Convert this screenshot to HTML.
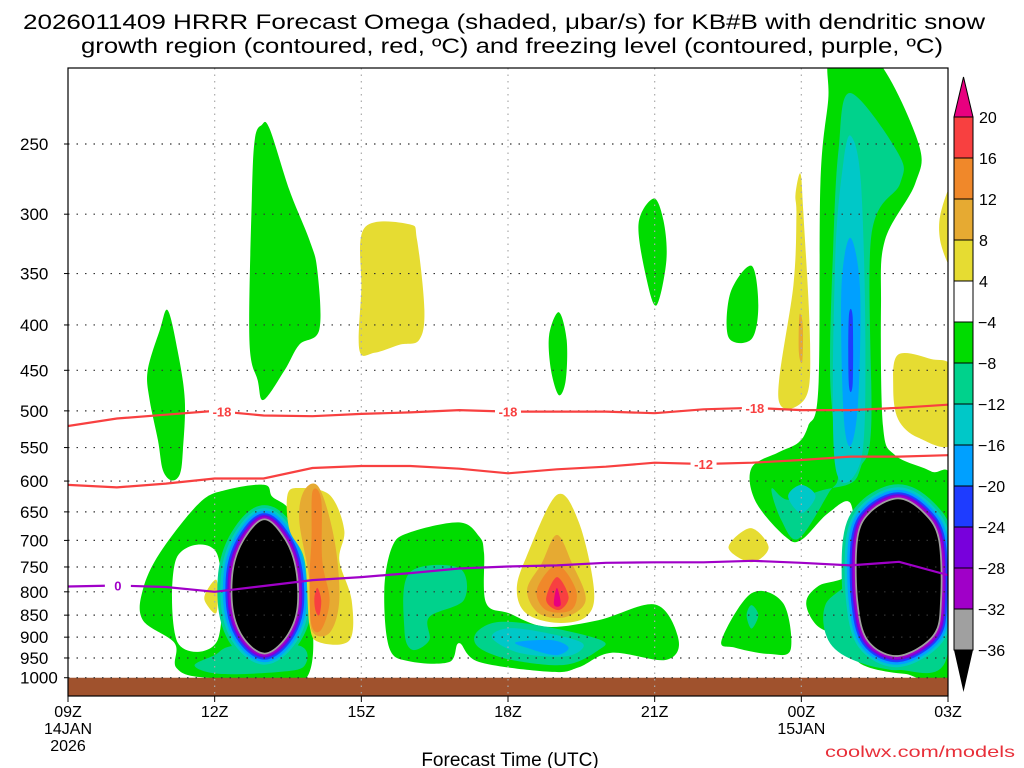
<!DOCTYPE html>
<html><head><meta charset="utf-8"><style>
html,body{margin:0;padding:0;background:#fff;}
svg{display:block;font-family:"Liberation Sans",sans-serif;}
</style></head><body>
<svg id="chart" width="1024" height="768" viewBox="0 0 1024 768" xmlns="http://www.w3.org/2000/svg">
<defs><clipPath id="plotclip"><rect x="68" y="68" width="880" height="628"/></clipPath></defs>
<text x="504" y="29" font-size="21" text-anchor="middle" textLength="962" lengthAdjust="spacingAndGlyphs">2026011409 HRRR Forecast Omega (shaded, μbar/s) for KB#B with dendritic snow</text>
<text x="512" y="53" font-size="21" text-anchor="middle" textLength="862" lengthAdjust="spacingAndGlyphs">growth region (contoured, red, ºC) and freezing level (contoured, purple, ºC)</text>
<g id="plot" clip-path="url(#plotclip)"></g>
<g id="grid"></g>
<g id="lines" clip-path="url(#plotclip)"></g>
<rect x="68" y="68" width="880" height="628" fill="none" stroke="#000" stroke-width="1.2"/>
<g id="yaxis"></g>
<g id="xaxis"></g>
<g id="cbar"></g>
<text x="510" y="766" font-size="19" text-anchor="middle">Forecast Time (UTC)</text>
<text x="1015" y="757" font-size="16" fill="#e8303a" text-anchor="end" textLength="190" lengthAdjust="spacingAndGlyphs">coolwx.com/models</text>
</svg>
<script>
// ---- data ----
const xTickHours=[0,3,6,9,12,15,18];
const xTickLabels=["09Z","12Z","15Z","18Z","21Z","00Z","03Z"];
const yTicks=[250,300,350,400,450,500,550,600,650,700,750,800,850,900,950,1000];
const cbarLevels=[20,16,12,8,4,-4,-8,-12,-16,-20,-24,-28,-32,-36];
const cbarColors=["#f84040","#f0882a","#e6aa32","#e6dc32","#ffffff","#00dc00","#00d28c","#00c8c8","#00a0ff","#1e3cff","#7800dc","#a000c8","#a0a0a0"];
const lineHours=[0,1,2,3,4,5,6,7,8,9,10,11,12,13,14,15,16,17,18];
const dgzMinus18=[520,510,505,500,506,507,504,502,499,501,501,501,503,498,496,499,499,496,492];
const dgzMinus12=[606,610,604,596,596,580,577,577,581,588,582,578,572,574,572,568,563,563,561];
const freezing0=[789,787,790,800,788,776,770,762,753,749,747,742,741,741,738,742,747,740,766];

const greenLeftTall=[[2.04,385],[2.24,427],[2.39,486],[2.35,554],[2.29,589],[2.12,599],[1.94,583],[1.84,540],[1.67,486],[1.63,450],[1.88,405]];
const greenUpperLeft=[[3.96,238],[4.12,240],[4.53,282],[4.94,321],[5.1,347],[5.14,405],[4.73,421],[4.43,450],[4.0,486],[3.88,462],[3.71,416],[3.76,289],[3.82,247]];
const yellowBlock=[[6.06,311],[6.98,308],[7.14,321],[7.29,385],[7.18,416],[6.78,421],[6.27,430],[5.96,427],[6.0,365]];
const greenMid1=[[10.04,387],[10.2,416],[10.18,462],[10.04,480],[9.88,450],[9.84,411]];
const greenMid2=[[11.98,288],[12.18,305],[12.24,338],[12.04,380],[11.84,356],[11.67,308]];
const greenMid3=[[13.98,343],[14.12,380],[13.98,415],[13.51,413],[13.55,368]];
const yellowThin=[[14.98,270],[15.04,298],[15.18,420],[15.08,484],[14.53,484],[14.84,360],[14.9,301],[14.88,285]];
const goldThin=[[14.96,390],[15.03,400],[15.02,440],[14.95,430]];
const yellowRight=[[16.98,432],[17.65,437],[18.1,450],[18.1,543],[17.39,536],[16.98,511],[16.88,470]];
const yellowTopRight=[[18.1,279],[17.84,301],[17.86,325],[18.1,342]];
const greenLeftSys=[[4.02,606],[4.18,625],[4.53,647],[4.8,712],[4.88,1000],[2.84,1000],[2.22,975],[2.18,914],[1.53,861],[1.53,796],[1.88,723],[2.69,635],[3.24,614]];
const whiteHole=[[2.22,733],[3.04,723],[3.06,907],[2.24,912]];
const yellowSmallLeft=[[3.04,776],[2.8,806],[2.84,827],[3.04,844]];
const tealLeftBottom=[[2.59,969],[3.0,943],[3.41,920],[4.73,920],[4.84,969],[4.33,985],[3.1,990]];
const coreLeft=[[4.02,664],[4.43,699],[4.65,756],[4.67,839],[4.43,902],[4.02,937],[3.61,902],[3.39,839],[3.39,756],[3.61,699]];
const yellowCol=[[4.73,611],[5.35,622],[5.65,681],[5.55,737],[5.8,817],[5.76,907],[5.14,912],[4.94,872],[4.84,737],[4.53,681],[4.49,622]];
const goldCol=[[4.84,614],[5.14,611],[5.45,699],[5.55,817],[5.35,890],[4.98,883],[4.94,776],[4.73,664]];
const orangeCol=[[5.0,617],[5.18,630],[5.2,737],[5.35,817],[5.18,883],[4.98,872],[4.94,776],[4.98,699]];
const redCol=[[5.1,792],[5.18,817],[5.14,850],[5.06,839],[5.04,812]];
const greenCenter=[[6.63,712],[6.98,686],[8.0,668],[8.41,693],[8.51,723],[8.55,823],[9.02,846],[9.78,876],[10.86,861],[12.02,827],[12.49,907],[12.22,955],[11.12,937],[10.45,973],[9.9,985],[8.41,960],[8.0,914],[7.8,960],[6.98,958],[6.57,925],[6.47,796]];
const tealCenterLeft=[[6.98,762],[8.0,752],[8.1,817],[7.39,854],[7.39,907],[7.04,930],[6.88,883]];
const tealCenterBottom=[[8.35,890],[8.82,865],[9.78,876],[10.9,907],[10.86,930],[10.18,967],[9.08,955],[8.41,925]];
const cyanCenter=[[8.67,900],[9.08,879],[10.18,900],[10.55,920],[10.18,946],[9.22,937]];
const blueCenter=[[9.16,912],[9.9,907],[10.24,925],[9.98,943],[9.43,927]];
const yellowFlame=[[10.0,622],[10.45,668],[10.76,796],[10.59,854],[9.98,867],[9.37,846],[9.18,796],[9.37,732]];
const goldFlame=[[10.0,690],[10.31,743],[10.59,817],[10.18,854],[9.63,846],[9.39,796],[9.69,743]];
const orangeFlame=[[10.0,746],[10.39,796],[10.29,839],[9.78,839],[9.59,796]];
const redFlame=[[10.0,770],[10.24,811],[10.04,839],[9.78,817]];
const magentaFlame=[[10.0,792],[10.08,827],[9.94,827]];
const yellowDiamond=[[13.51,713],[13.96,678],[14.33,713],[13.98,741]];
const greenBottomRight=[[13.37,907],[13.98,803],[14.63,824],[14.78,930],[14.33,940],[13.65,925]];
const tealBottomRight=[[13.98,828],[14.12,850],[13.98,880],[13.88,850]];
const greenRightSys=[[15.61,200],[16.51,200],[17.39,249],[17.33,277],[16.71,321],[16.63,380],[16.67,520],[16.92,561],[17.65,585],[18.1,612],[18.1,985],[17.12,990],[16.22,965],[15.96,907],[15.35,876],[15.1,824],[15.35,788],[16.02,756],[16.02,638],[15.55,652],[15.0,699],[14.67,693],[14.06,632],[13.98,580],[14.53,557],[14.94,543],[15.14,520],[15.35,470],[15.39,277],[15.55,223]];
const tealRightUpper=[[16.0,219],[16.98,256],[17.02,277],[16.43,318],[16.43,520],[16.22,578],[16.02,603],[15.45,614],[14.73,630],[14.39,612],[14.59,664],[14.94,697],[15.55,620],[15.76,583],[15.59,462],[15.65,329],[15.76,254]];
const cyanRightUpper=[[16.02,245],[16.22,277],[16.31,419],[16.22,568],[15.69,575],[15.69,341],[15.86,262]];
const blueRightUpper=[[16.0,319],[16.2,364],[16.16,490],[16.0,548],[15.86,501],[15.82,364]];
const darkBlueSliver=[[15.97,392],[16.05,392],[16.05,466],[15.97,466]];
const cyanDiamond=[[15.0,606],[15.29,624],[15.0,652],[14.73,624]];
const tealRightLower=[[15.49,828],[16.06,766],[16.57,638],[17.39,630],[17.9,699],[17.96,955],[16.98,980],[16.06,955],[15.55,907]];
const coreRight=[[16.98,629],[17.49,652],[17.8,699],[17.84,817],[17.69,895],[16.98,943],[16.37,907],[16.16,817],[16.16,699],[16.41,652]];

// ---- axes ----
const X0=68,X1=948,HMAX=18;
function xs(h){return X0+(X1-X0)*h/HMAX;}
function ys(p){return 144+385*Math.log(p/250);}
const NS="http://www.w3.org/2000/svg";
function mk(tag,attrs,parent){const e=document.createElementNS(NS,tag);for(const k in attrs)e.setAttribute(k,attrs[k]);parent.appendChild(e);return e;}
function smooth(pts){
  const P=pts.map(q=>[xs(q[0]),ys(q[1])]);const n=P.length;let d="M"+P[0][0].toFixed(1)+","+P[0][1].toFixed(1);
  for(let i=0;i<n;i++){const p0=P[(i-1+n)%n],p1=P[i],p2=P[(i+1)%n],p3=P[(i+2)%n];
    const c1=[p1[0]+(p2[0]-p0[0])/6,p1[1]+(p2[1]-p0[1])/6],c2=[p2[0]-(p3[0]-p1[0])/6,p2[1]-(p3[1]-p1[1])/6];
    d+="C"+c1[0].toFixed(1)+","+c1[1].toFixed(1)+" "+c2[0].toFixed(1)+","+c2[1].toFixed(1)+" "+p2[0].toFixed(1)+","+p2[1].toFixed(1);}
  return d+"Z";}
const plotG=document.getElementById('plot');
function blob(pts,color,name){const e=mk('path',{d:smooth(pts),fill:color},plotG);

}
function core(pts,name){
  const rings=[[30,"#00d28c"],[24,"#00c8c8"],[19,"#00a0ff"],[14,"#1e3cff"],[10,"#7800dc"],[7,"#a000c8"],[3.5,"#a0a0a0"],[0,"#000"]];
  rings.forEach(r=>{const e=mk('path',{d:smooth(pts),fill:r[1],stroke:r[1],"stroke-width":r[0],"stroke-linejoin":"round"},plotG);
  
  });}
const G="#00dc00",T="#00d28c",C="#00c8c8",LB="#00a0ff",DB="#1e3cff",Y="#e6dc32",GO="#e6aa32",O="#f0882a",R="#f84040",M="#e8007f";
blob(greenLeftTall,G,'omega-green-left-tall');
blob(greenUpperLeft,G,'omega-green-upper');
blob(yellowBlock,Y,'omega-yellow-block');
blob(greenMid1,G,'omega-green-mid1');
blob(greenMid2,G,'omega-green-mid2');
blob(greenMid3,G,'omega-green-mid3');
blob(yellowThin,Y,'omega-yellow-thin');
blob(goldThin,GO,'omega-gold-thin');
blob(yellowRight,Y,'omega-yellow-right');
blob(yellowTopRight,Y,'omega-yellow-top-right');
blob(greenLeftSys,G,'omega-green-left-system');
blob(whiteHole,"#fff",'omega-white-gap');
blob(yellowSmallLeft,Y,'omega-yellow-small-left');
blob(tealLeftBottom,T,'omega-teal-left-bottom');
core(coreLeft,'omega-core-left');
blob(yellowCol,Y,'omega-yellow-column');
blob(goldCol,GO,'omega-gold-column');
blob(orangeCol,O,'omega-orange-column');
blob(redCol,R,'omega-red-column');
blob(greenCenter,G,'omega-green-center');
blob(tealCenterLeft,T,'omega-teal-center-left');
blob(tealCenterBottom,T,'omega-teal-center-bottom');
blob(cyanCenter,C,'omega-cyan-center');
blob(blueCenter,LB,'omega-blue-center');
blob(yellowFlame,Y,'omega-yellow-flame');
blob(goldFlame,GO,'omega-gold-flame');
blob(orangeFlame,O,'omega-orange-flame');
blob(redFlame,R,'omega-red-flame');
blob(magentaFlame,M,'omega-magenta-flame');
blob(yellowDiamond,Y,'omega-yellow-diamond');
blob(greenBottomRight,G,'omega-green-bottom-right');
blob(tealBottomRight,T,'omega-teal-bottom-right');
blob(greenRightSys,G,'omega-green-right-system');
blob(tealRightUpper,T,'omega-teal-right-upper');
blob(cyanRightUpper,C,'omega-cyan-right-upper');
blob(blueRightUpper,LB,'omega-blue-right-upper');
blob(darkBlueSliver,DB,'omega-darkblue-sliver');
blob(cyanDiamond,C,'omega-cyan-diamond');
blob(tealRightLower,T,'omega-teal-right-lower');
core(coreRight,'omega-core-right');
// ground
const gr=mk('rect',{x:X0,y:ys(1000),width:X1-X0,height:696-ys(1000),fill:"#a0522d"},plotG);



// grid
const gridG=document.getElementById('grid');
yTicks.forEach(p=>{const l=mk('line',{x1:X0,x2:X1,y1:ys(p),y2:ys(p),stroke:"#333","stroke-width":1.2,"stroke-dasharray":"1.5,7"},gridG);

});
xTickHours.slice(1,-1).forEach(h=>{const l=mk('line',{x1:xs(h),x2:xs(h),y1:68,y2:696,stroke:"#aaa","stroke-width":1.2,"stroke-dasharray":"1.5,5"},gridG);

});

// contour lines
const linesG=document.getElementById('lines');
function cline(vals,color,name,labels,txt){
  const d=vals.map((p,i)=>(i?"L":"M")+xs(lineHours[i]).toFixed(1)+","+ys(p).toFixed(1)).join("");
  const e=mk('path',{d:d,fill:"none",stroke:color,"stroke-width":2.2},linesG);
  
  
  labels.forEach(h=>{const i=Math.floor(h),f=h-i;const p=vals[i]+(vals[Math.min(i+1,vals.length-1)]-vals[i])*f;
    const bg=mk('rect',{x:xs(h)-13,y:ys(p)-7,width:26,height:14,fill:"#fff"},linesG);
    
    
    const t=mk('text',{x:xs(h),y:ys(p)+5,"font-size":13,"font-weight":"bold",fill:color,"text-anchor":"middle"},linesG);
    
    
    t.textContent=txt;});}
cline(dgzMinus18,"#f84040","dgz-minus18-line",[3.15,9.0,14.05],"-18");
cline(dgzMinus12,"#f84040","dgz-minus12-line",[13.0],"-12");
cline(freezing0,"#a000c8","freezing-level-line",[1.02],"0");

// y axis
const ya=document.getElementById('yaxis');
yTicks.forEach(p=>{const t=mk('text',{x:20,y:ys(p)+6,"font-size":17},ya);


t.textContent=String(p);
const k=mk('line',{x1:X0-4,x2:X0,y1:ys(p),y2:ys(p),stroke:"#000"},ya);

});
// x axis
const xa=document.getElementById('xaxis');
xTickHours.forEach((h,i)=>{const t=mk('text',{x:xs(h),y:717,"font-size":16,"text-anchor":"middle"},xa);


t.textContent=xTickLabels[i];
const k=mk('line',{x1:xs(h),x2:xs(h),y1:696,y2:702,stroke:"#000"},xa);

});
[["14JAN",0,734],["2026",0,751],["15JAN",15,734]].forEach(a=>{const t=mk('text',{x:xs(a[1]),y:a[2],"font-size":16,"text-anchor":"middle"},xa);


t.textContent=a[0];});

// colorbar
const cb=document.getElementById('cbar');
function cy(i){return 117+i*(650-117)/13;}
const cbTopArrow=mk('polygon',{points:"954,"+cy(0)+" 973,"+cy(0)+" 963.5,77",fill:"#e8007f",stroke:"#000","stroke-width":1},cb);


cbarColors.forEach((c,i)=>{const r=mk('rect',{x:954,y:cy(i),width:19,height:cy(i+1)-cy(i),fill:c,stroke:"#000","stroke-width":1},cb);

});
const cbBotArrow=mk('polygon',{points:"954,"+cy(13)+" 973,"+cy(13)+" 963.5,692",fill:"#000"},cb);


cbarLevels.forEach((v,i)=>{const t=mk('text',{x:v<0?978:979,y:cy(i)+6,"font-size":16},cb);


t.textContent=v<0?"\u2212"+(-v):String(v);});
</script>
</body></html>
